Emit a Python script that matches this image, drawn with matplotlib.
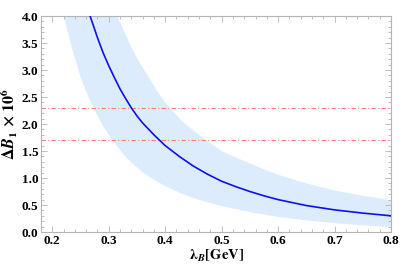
import numpy as np
import matplotlib
matplotlib.use("Agg")
import matplotlib.pyplot as plt
from matplotlib.ticker import MultipleLocator

# central curve
lam_c = [0.260, 0.267, 0.28, 0.29, 0.30, 0.31, 0.32, 0.33, 0.34, 0.35, 0.36,
         0.37, 0.38, 0.39, 0.40, 0.425, 0.45, 0.475, 0.50, 0.525, 0.55,
         0.575, 0.60, 0.65, 0.70, 0.75, 0.80]
val_c = [4.2, 4.0, 3.6, 3.32, 3.08, 2.86, 2.65, 2.47, 2.30, 2.15, 2.02,
         1.91, 1.80, 1.70, 1.60, 1.40, 1.22, 1.07, 0.94, 0.84, 0.75,
         0.67, 0.60, 0.49, 0.41, 0.35, 0.30]

# uncertainty band edges
lam_lo = [0.215, 0.220, 0.235, 0.25, 0.262, 0.275, 0.29, 0.308, 0.33, 0.345,
          0.36, 0.38, 0.40, 0.425, 0.45, 0.475, 0.50, 0.55, 0.60, 0.65,
          0.70, 0.75, 0.80]
val_lo = [4.2, 4.0, 3.4, 2.88, 2.55, 2.26, 1.96, 1.68, 1.39, 1.24,
          1.11, 0.97, 0.85, 0.73, 0.63, 0.55, 0.48, 0.37, 0.28, 0.215,
          0.165, 0.125, 0.09]
lam_hi = [0.310, 0.315, 0.34, 0.355, 0.37, 0.385, 0.40, 0.415, 0.43, 0.45,
          0.47, 0.50, 0.525, 0.55, 0.575, 0.60, 0.65, 0.70, 0.75, 0.80]
val_hi = [4.2, 4.0, 3.42, 3.13, 2.88, 2.62, 2.40, 2.22, 2.05, 1.88,
          1.72, 1.50, 1.38, 1.27, 1.16, 1.06, 0.90, 0.77, 0.67, 0.59]

# experimental bounds
h_lines = [2.3, 1.7]

plt.rcParams.update({
    "font.family": "Liberation Serif",
    "font.weight": "bold",
    "font.size": 9.5,
    "mathtext.fontset": "stix",
})

fig = plt.figure(figsize=(4.07, 2.66), dpi=100)
ax = fig.add_axes([0.1007, 0.1278, 0.86, 0.812])

band_x = np.concatenate([lam_lo, lam_hi[::-1]])
band_y = np.concatenate([val_lo, val_hi[::-1]])
ax.fill(band_x, band_y, color="#dcecfc", lw=0, zorder=1)
ax.plot(lam_c, val_c, color="#1010e8", lw=1.2, zorder=3)
for h in h_lines:
    ax.axhline(h, color="#ff7f7f", lw=0.8, ls=(0, (4, 2, 1, 2)), zorder=2)

ax.set_xlim(0.18, 0.8)
ax.set_ylim(0.0, 4.0)
ax.xaxis.set_major_locator(MultipleLocator(0.1))
ax.xaxis.set_minor_locator(MultipleLocator(0.02))
ax.yaxis.set_major_locator(MultipleLocator(0.5))
ax.yaxis.set_minor_locator(MultipleLocator(0.1))
ax.xaxis.set_major_formatter(plt.FuncFormatter(lambda v, p: f"{v:.1f}"))
ax.yaxis.set_major_formatter(plt.FuncFormatter(lambda v, p: f"{v:.1f}"))

for s in ax.spines.values():
    s.set_color("#b4b4b4")
    s.set_linewidth(0.8)
ax.tick_params(which="both", direction="in", top=True, right=True,
               color="#b4b4b4", width=0.6, labelsize=9.5, pad=2)
ax.tick_params(which="major", length=4)
ax.tick_params(which="minor", length=2)

ax.set_xlabel(r"$\mathbf{\lambda}_{\mathbfit{B}}\mathbf{[GeV]}$", fontsize=10.5, labelpad=1)
ax.set_ylabel(r"$\mathbf{\Delta}\mathbfit{B}_{\mathbf{1}}\ \mathbf{\times}\ \mathbf{10^{6}}$",
              fontsize=11.5, labelpad=1)

fig.savefig("out.png", dpi=100)
